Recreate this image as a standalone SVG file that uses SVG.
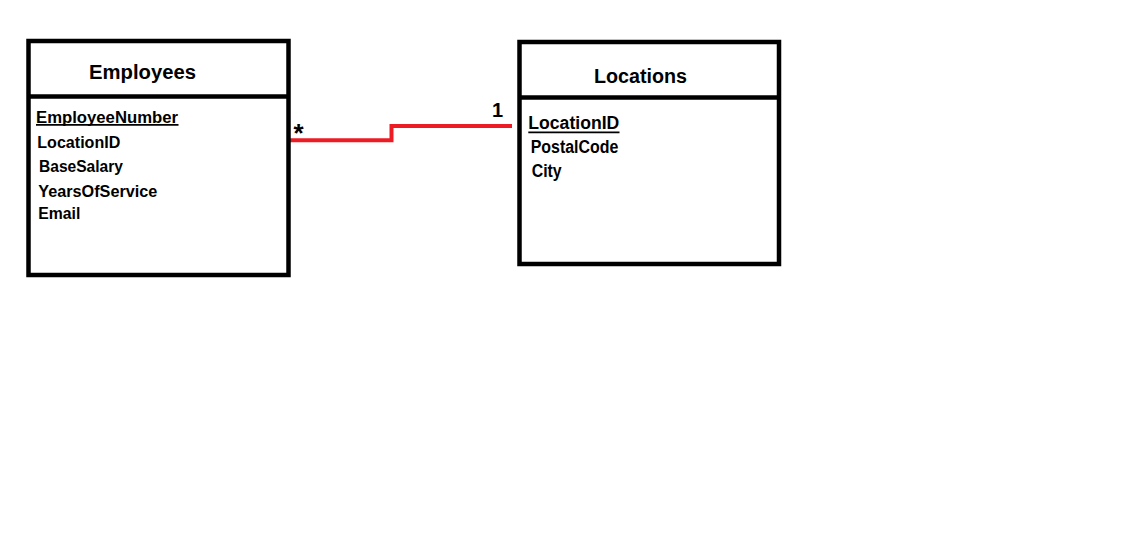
<svg xmlns="http://www.w3.org/2000/svg" width="1134" height="551" viewBox="0 0 1134 551">
<style>
.box{fill:#fff;stroke:#000;stroke-width:4.5}
.div{stroke:#000;stroke-width:4.5}
.t{font-family:"Liberation Sans",Arial,sans-serif;font-weight:bold;fill:#000}
.h{font-size:20px}
.f{font-size:16px}
.g{font-size:17.5px}
.ul{stroke:#000;stroke-width:1.8}
.rel{fill:none;stroke:#ed1c24;stroke-width:4}
</style>
<rect width="1134" height="551" fill="#fff"/>
<g id="connectors">
<polyline class="rel" points="290,140.3 391.5,140.3 391.5,126 512,126"/>
<text class="t" style="font-size:26px" x="293.5" y="141.5">*</text>
<text class="t h" x="492" y="117">1</text>
</g>
<g id="employees">
<rect class="box" x="28.5" y="41" width="260" height="234"/>
<line class="div" x1="28.5" y1="96.5" x2="288.5" y2="96.5"/>
<text class="t h" x="89" y="79" textLength="107" lengthAdjust="spacingAndGlyphs">Employees</text>
<text class="t f" x="36" y="123" textLength="142" lengthAdjust="spacingAndGlyphs">EmployeeNumber</text>
<line class="ul" x1="36" y1="124.8" x2="178.5" y2="124.8"/>
<text class="t f" x="37.3" y="148.3" textLength="83" lengthAdjust="spacingAndGlyphs">LocationID</text>
<text class="t f" x="39" y="172" textLength="84" lengthAdjust="spacingAndGlyphs">BaseSalary</text>
<text class="t f" x="38.3" y="196.5" textLength="119" lengthAdjust="spacingAndGlyphs">YearsOfService</text>
<text class="t f" x="38.3" y="219" textLength="42" lengthAdjust="spacingAndGlyphs">Email</text>
</g>
<g id="locations">
<rect class="box" x="519.5" y="42" width="259.5" height="222"/>
<line class="div" x1="519.5" y1="97.5" x2="779" y2="97.5"/>
<text class="t h" x="594" y="83.3" textLength="93" lengthAdjust="spacingAndGlyphs">Locations</text>
<text class="t g" x="528.3" y="129" textLength="91" lengthAdjust="spacingAndGlyphs">LocationID</text>
<line class="ul" x1="528.3" y1="132.3" x2="619.5" y2="132.3"/>
<text class="t g" x="530.7" y="153.3" textLength="87.7" lengthAdjust="spacingAndGlyphs">PostalCode</text>
<text class="t g" x="531.7" y="177" textLength="30" lengthAdjust="spacingAndGlyphs">City</text>
</g>
</svg>
